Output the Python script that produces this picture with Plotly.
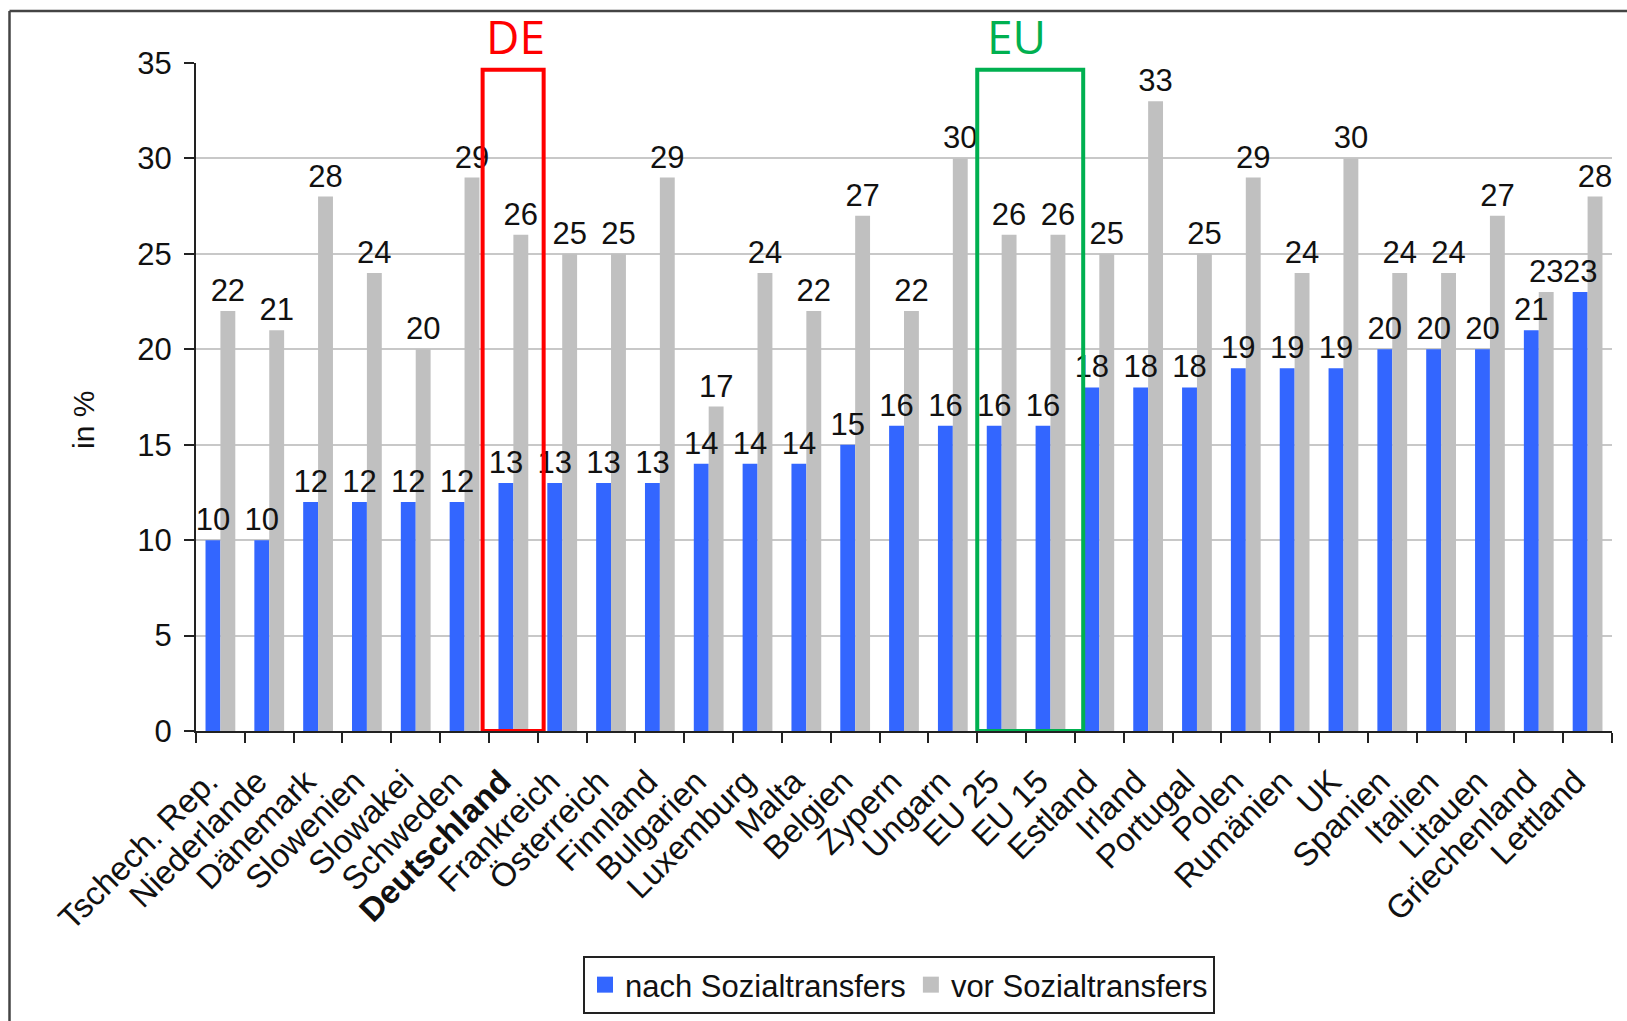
import plotly.graph_objects as go

categories = ["Tschech. Rep.", "Niederlande", "Dänemark", "Slowenien", "Slowakei", "Schweden",
              "Deutschland", "Frankreich", "Österreich", "Finnland", "Bulgarien", "Luxemburg",
              "Malta", "Belgien", "Zypern", "Ungarn", "EU 25", "EU 15", "Estland", "Irland",
              "Portugal", "Polen", "Rumänien", "UK", "Spanien", "Italien", "Litauen",
              "Griechenland", "Lettland"]
nach = [10, 10, 12, 12, 12, 12, 13, 13, 13, 13, 14, 14, 14, 15, 16, 16, 16, 16, 18, 18,
        18, 19, 19, 19, 20, 20, 20, 21, 23]
vor = [22, 21, 28, 24, 20, 29, 26, 25, 25, 29, 17, 24, 22, 27, 22, 30, 26, 26, 25, 33,
       25, 29, 24, 30, 24, 24, 27, 23, 28]
series_names = ["nach Sozialtransfers", "vor Sozialtransfers"]
tick_text = ["<b>%s</b>" % c if c == "Deutschland" else c for c in categories]
y_ticks = [0, 5, 10, 15, 20, 25, 30, 35]

FONT = "Liberation Sans, Arial, sans-serif"
BLUE, GRAY = "#3366FF", "#C0C0C0"
W, H = 1627, 1021
L, R, T, B = 196, 15, 63, 290
pw, ph = W - L - R, H - T - B

def px(xp):
    return (xp - L) / pw

def py(yp):
    return (H - B - yp) / ph

fig = go.Figure()
# bars
for vals, col, grp in [(nach, BLUE, "n"), (vor, GRAY, "v")]:
    fig.add_trace(go.Bar(x=categories, y=vals, offsetgroup=grp, showlegend=False,
                         marker=dict(color=col, line=dict(width=0)), hoverinfo="skip"))
# value labels on top layer (transparent bars in the same slots)
for vals, grp in [(nach, "n"), (vor, "v")]:
    fig.add_trace(go.Bar(x=categories, y=vals, offsetgroup=grp, showlegend=False,
                         marker=dict(color="rgba(0,0,0,0)", line=dict(width=0)),
                         text=vals, textposition="outside", constraintext="none",
                         cliponaxis=False, hoverinfo="skip",
                         textfont=dict(family=FONT, size=31, color="#111111")))
# legend entries
for name, col in zip(series_names, [BLUE, GRAY]):
    fig.add_trace(go.Scatter(x=[None], y=[None], mode="markers", name=name,
                             marker=dict(symbol="square", size=20, color=col)))

shapes = [
    dict(type="line", xref="paper", yref="paper", x0=px(9.5), x1=px(9.5), y0=py(11), y1=py(1040),
         line=dict(color="#444444", width=2.5)),
    dict(type="line", xref="paper", yref="paper", x0=px(9.5), x1=px(1660), y0=py(11), y1=py(11),
         line=dict(color="#444444", width=2.5)),
    dict(type="rect", xref="x", yref="y", x0=5.37, x1=6.62, y0=0, y1=34.65,
         line=dict(color="#FF0000", width=4)),
    dict(type="rect", xref="x", yref="y", x0=15.5, x1=17.67, y0=0, y1=34.65,
         line=dict(color="#00B050", width=4)),
]

annotations = [
    dict(text="DE", x=6.05, y=py(36), xref="x", yref="paper", showarrow=False,
         font=dict(family="Open Sans, Noto Sans, sans-serif", size=46, color="#FF0000"),
         xanchor="center", yanchor="middle"),
    dict(text="EU", x=16.31, y=py(36), xref="x", yref="paper", showarrow=False,
         font=dict(family="Open Sans, Noto Sans, sans-serif", size=46, color="#00B050"),
         xanchor="center", yanchor="middle"),
    dict(text="in %", x=px(83), y=py(420), xref="paper", yref="paper", showarrow=False,
         textangle=-90, font=dict(family=FONT, size=30, color="#111111"),
         xanchor="center", yanchor="middle"),
]

fig.update_layout(
    width=W, height=H,
    margin=dict(l=L, r=R, t=T, b=B, pad=0, autoexpand=False),
    paper_bgcolor="white", plot_bgcolor="white",
    barmode="group", bargap=0.39, bargroupgap=0,
    font=dict(family=FONT, color="#111111"),
    shapes=shapes, annotations=annotations,
    showlegend=True,
    legend=dict(orientation="h", x=px(899), xanchor="center", y=py(956), yanchor="top",
                bordercolor="#222222", borderwidth=2, bgcolor="white",
                font=dict(family=FONT, size=31, color="#111111"),
                itemwidth=30, tracegroupgap=0, itemsizing="trace"),
)
fig.update_xaxes(type="category", tickmode="array", tickvals=categories, ticktext=tick_text,
                 tickangle=-45, tickfont=dict(family=FONT, size=33, color="#111111"),
                 showline=True, linecolor="#222222", linewidth=2, automargin=False,
                 ticks="outside", tickson="boundaries", ticklen=10, tickwidth=2, tickcolor="#222222",
                 showgrid=False, ticklabelstandoff=16, ticklabelshift=-12)
fig.update_yaxes(range=[0, 35], tickvals=y_ticks, automargin=False,
                 tickfont=dict(family=FONT, size=31, color="#111111"),
                 showline=True, linecolor="#222222", linewidth=2,
                 ticks="outside", ticklen=10, tickwidth=2, tickcolor="#222222",
                 showgrid=True, gridcolor="#C8C8C8", gridwidth=2,
                 zeroline=False, ticklabelstandoff=6)

fig.write_html("out.html", config={"displayModeBar": False},
               post_script="document.body.style.margin='0';document.body.style.overflow='hidden';")
